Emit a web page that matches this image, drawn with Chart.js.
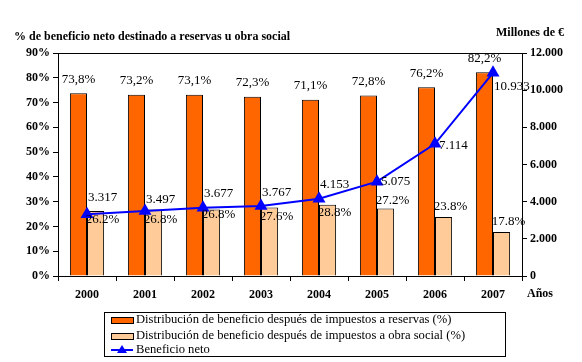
<!DOCTYPE html>
<html>
<head>
<meta charset="utf-8">
<script src="https://cdn.jsdelivr.net/npm/chart.js@4"></script>
<style>
  html, body { margin: 0; padding: 0; background: #fff; }
</style>
</head>
<body>
<canvas id="chart" width="582" height="362"></canvas>
<script>
// data
const years = ['2000', '2001', '2002', '2003', '2004', '2005', '2006', '2007'];
const reservas = [73.8, 73.2, 73.1, 72.3, 71.1, 72.8, 76.2, 82.2];
const obraSocial = [26.2, 26.8, 26.8, 27.6, 28.8, 27.2, 23.8, 17.8];
const beneficio = [3317, 3497, 3677, 3767, 4153, 5075, 7114, 10933];

const seriesNames = [
    'Distribución de beneficio después de impuestos a reservas (%)',
    'Distribución de beneficio después de impuestos a obra social (%)',
    'Beneficio neto'
];

// label nudges (px) so the value labels sit like in the original
const obraLabelDy = [8, 10, 5, 9, 8, -8, -10, -10];
const lineLabelDy = [-17, -11, -14, -13, -14, 0, 2, 14];

const SERIF = '"Liberation Serif", "Times New Roman", serif';
const ORANGE = '#FF6600';
const PEACH = '#FFCC99';
const BLUE = '#0000FF';

function thousands(v) {
    return String(Math.round(v)).replace(/\B(?=(\d{3})+(?!\d))/g, '.');
}

const labelsPlugin = {
    id: 'valueLabels',
    afterDatasetsDraw(chart) {
        const ctx = chart.ctx;
        ctx.save();
        ctx.font = '13px ' + SERIF;
        ctx.fillStyle = '#000';
        ctx.textBaseline = 'middle';

        // reserves labels above the orange bars
        ctx.textAlign = 'center';
        chart.getDatasetMeta(1).data.forEach((bar, i) => {
            ctx.fillText(reservas[i].toFixed(1).replace('.', ',') + '%', bar.x, bar.y - 14);
        });
        // obra social labels
        chart.getDatasetMeta(2).data.forEach((bar, i) => {
            ctx.fillText(obraSocial[i].toFixed(1) + '%', bar.x + 7, bar.y + obraLabelDy[i]);
        });
        // line labels
        ctx.textAlign = 'left';
        chart.getDatasetMeta(0).data.forEach((pt, i) => {
            const dx = (i === 5 || i === 6) ? 4 : 1;
            ctx.fillText(thousands(beneficio[i]), pt.x + dx, pt.y + lineLabelDy[i]);
        });
        ctx.restore();
    },
    afterDraw(chart) {
        const ctx = chart.ctx;
        const area = chart.chartArea;
        ctx.save();

        // top frame line
        ctx.strokeStyle = '#000';
        ctx.lineWidth = 1;
        ctx.beginPath();
        ctx.moveTo(area.left, area.top + 0.5);
        ctx.lineTo(area.right, area.top + 0.5);
        ctx.stroke();

        // axis titles
        ctx.fillStyle = '#000';
        ctx.font = 'bold 12px ' + SERIF;
        ctx.textBaseline = 'middle';
        ctx.textAlign = 'left';
        ctx.fillText('% de beneficio neto destinado a reservas u obra social', 14, 37);
        ctx.fillText('Millones de €', 496, 33);
        ctx.fillText('Años', 527, 294);

        // legend
        const lx = 104, ly = 312, lw = 401, lh = 44;
        ctx.strokeRect(lx + 0.5, ly + 0.5, lw, lh);
        ctx.font = '12.6px ' + SERIF;
        const rows = [320, 336, 350];
        const fills = [ORANGE, PEACH];
        for (let i = 0; i < 2; i++) {
            ctx.fillStyle = fills[i];
            ctx.fillRect(111, rows[i] - 3, 22, 6);
            ctx.strokeStyle = '#000';
            ctx.strokeRect(111.5, rows[i] - 2.5, 22, 6);
        }
        ctx.strokeStyle = BLUE;
        ctx.lineWidth = 2;
        ctx.beginPath();
        ctx.moveTo(111, rows[2]);
        ctx.lineTo(133, rows[2]);
        ctx.stroke();
        ctx.fillStyle = BLUE;
        ctx.beginPath();
        ctx.moveTo(122, rows[2] - 5);
        ctx.lineTo(127, rows[2] + 3);
        ctx.lineTo(117, rows[2] + 3);
        ctx.closePath();
        ctx.fill();

        ctx.fillStyle = '#000';
        seriesNames.forEach((name, i) => {
            ctx.fillText(name, 136, rows[i]);
        });
        ctx.restore();
    }
};

const tickFont = { family: SERIF, size: 12, weight: 'bold' };

const ctx = document.getElementById('chart').getContext('2d');
const chart = new Chart(ctx, {
    data: {
        labels: years,
        datasets: [
            {
                type: 'line',
                label: seriesNames[2],
                data: beneficio,
                yAxisID: 'yRight',
                borderColor: BLUE,
                backgroundColor: BLUE,
                borderWidth: 2,
                pointStyle: 'triangle',
                pointRadius: 7.5,
                pointBorderWidth: 0,
                tension: 0,
                order: 0
            },
            {
                type: 'bar',
                label: seriesNames[0],
                data: reservas,
                yAxisID: 'yLeft',
                backgroundColor: ORANGE,
                borderColor: '#000',
                borderWidth: 1,
                categoryPercentage: 0.59,
                barPercentage: 1,
                order: 1
            },
            {
                type: 'bar',
                label: seriesNames[1],
                data: obraSocial,
                yAxisID: 'yLeft',
                backgroundColor: PEACH,
                borderColor: '#000',
                borderWidth: 1,
                categoryPercentage: 0.59,
                barPercentage: 1,
                order: 1
            }
        ]
    },
    options: {
        responsive: false,
        animation: false,
        layout: { padding: { top: 53, left: 0, right: 0, bottom: 0 } },
        plugins: {
            legend: { display: false },
            tooltip: { enabled: false }
        },
        scales: {
            x: {
                grid: { drawOnChartArea: false, color: '#000', tickLength: 5 },
                border: { color: '#000' },
                ticks: { color: '#000', font: tickFont, padding: 7 },
                afterFit(scale) { scale.height = 86; }
            },
            yLeft: {
                position: 'left',
                min: 0,
                max: 90,
                grid: { drawOnChartArea: false, color: '#000', tickLength: 5 },
                border: { color: '#000' },
                ticks: {
                    stepSize: 10,
                    color: '#000',
                    padding: 3,
                    font: tickFont,
                    callback: v => v + '%'
                },
                afterFit(scale) { scale.width = 58; }
            },
            yRight: {
                position: 'right',
                min: 0,
                max: 12000,
                grid: { drawOnChartArea: false, color: '#000', tickLength: 5 },
                border: { color: '#000' },
                ticks: {
                    stepSize: 2000,
                    color: '#000',
                    padding: 3,
                    font: tickFont,
                    callback: v => thousands(v)
                },
                afterFit(scale) { scale.width = 60; }
            }
        }
    },
    plugins: [labelsPlugin]
});
</script>
</body>
</html>
